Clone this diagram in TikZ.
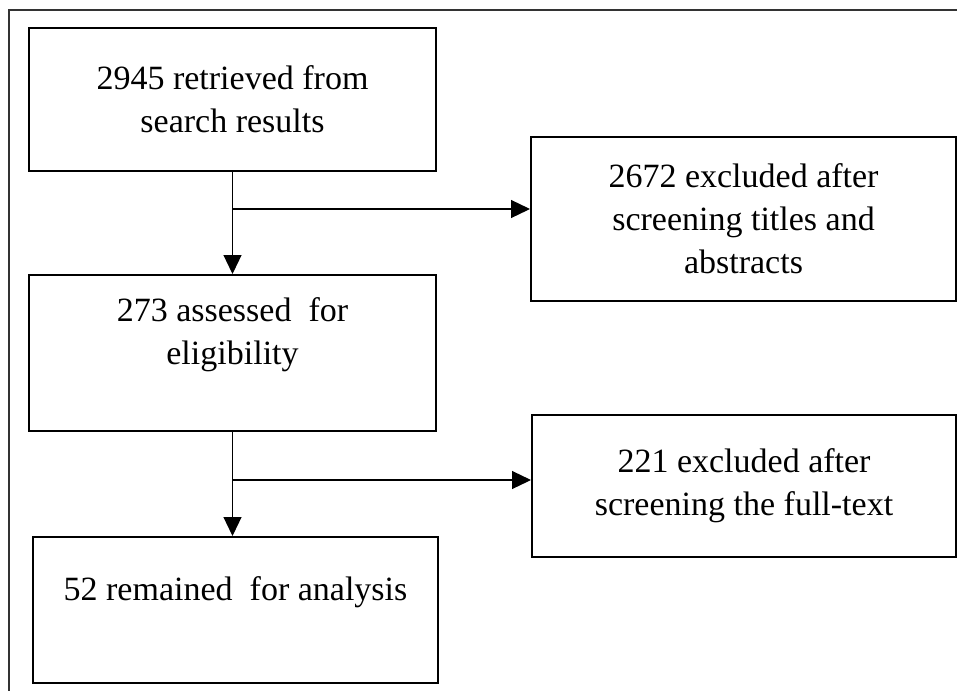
\documentclass[tikz,border=0pt]{standalone}
\usepackage{fontspec}
\setmainfont{Liberation Serif}
\usetikzlibrary{positioning,arrows.meta}

\begin{document}
\begin{tikzpicture}[
    font=\fontsize{17pt}{21.5pt}\selectfont,
    stage/.style={draw, line width=1pt, minimum width=203.5pt, align=center, inner sep=4pt},
    excl/.style={draw, line width=1pt, minimum width=212.5pt, align=center, inner sep=4pt},
    arr/.style={-{Triangle[length=9.5pt, width=9pt]}, line width=0.6pt},
    frame/.style={line width=0.7pt, draw=black!80},
  ]
    \useasboundingbox (0,0) rectangle (478.5pt,-345.5pt);

    % Outer frame (top and left only)
    \coordinate (fr) at (478.5pt,-5pt);
    \coordinate (fl) at (4.5pt,-5pt);
    \coordinate (fb) at (4.5pt,-345.5pt);
    \draw[frame] (fr) -- (fl) -- (fb);

    % Left column
    \node[stage, minimum height=71.5pt, anchor=north west] (retrieved) at (14pt,-13.5pt)
        {2945 retrieved from\\search results};
    \node[stage, minimum height=78pt, below=51pt of retrieved] (assessed)
        {273 assessed \ for\\eligibility\\\mbox{}};
    \node[stage, minimum height=73pt, minimum width=202.5pt, below=52pt of assessed, xshift=1.5pt] (remained)
        {52 remained \ for analysis\\\mbox{}};

    % Right column
    \node[excl, minimum height=82pt, below right=54.5pt and 46.5pt of retrieved.north east, anchor=north west] (exclabs)
        {2672 excluded after\\screening titles and\\abstracts};
    \node[excl, minimum height=71pt, minimum width=212pt, below right=70pt and 47pt of assessed.north east, anchor=north west] (exclfull)
        {221 excluded after\\screening the full-text};

    % Forks
    \coordinate[below=18.5pt of retrieved.south] (fork1);
    \coordinate[below=24pt of assessed.south] (fork2);

    % Arrows
    \draw[arr] (retrieved.south) -- (assessed.north);
    \draw[arr] (fork1) -- (fork1 -| exclabs.west);
    \draw[arr] (assessed.south) -- (assessed.south |- remained.north);
    \draw[arr] (fork2) -- (fork2 -| exclfull.west);
\end{tikzpicture}
\end{document}
